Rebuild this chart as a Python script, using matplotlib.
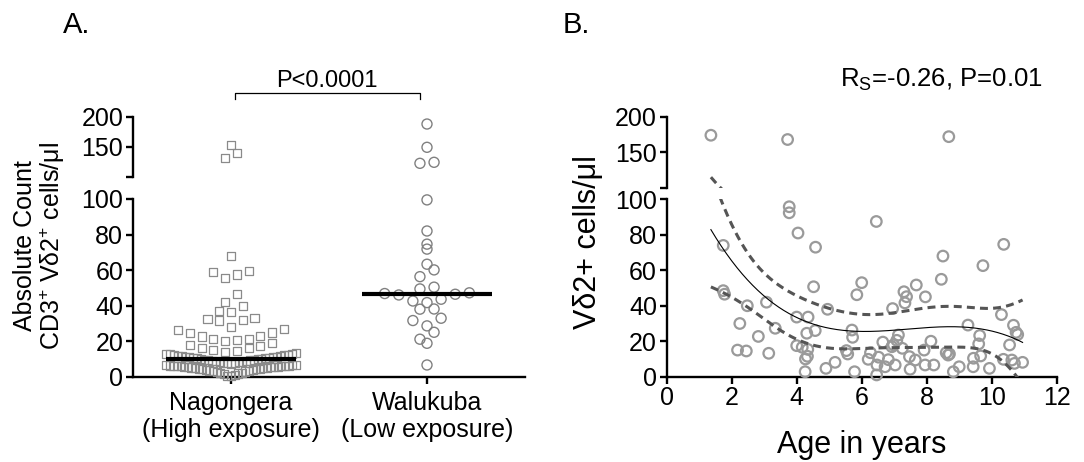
import numpy as np
import matplotlib
matplotlib.use('Agg')
import matplotlib.pyplot as plt
from matplotlib.transforms import blended_transform_factory

plt.rcParams['font.family'] = ['Liberation Sans', 'DejaVu Sans']
plt.rcParams['mathtext.fontset'] = 'custom'
plt.rcParams['mathtext.rm'] = 'Liberation Sans'
plt.rcParams['mathtext.it'] = 'Liberation Sans:italic'
plt.rcParams['mathtext.bf'] = 'Liberation Sans:bold'

### data

groups = ['Nagongera\n(High exposure)', 'Walukuba\n(Low exposure)']

nagongera = [153.3, 140.5, 131,
             67.8, 59.7, 57.5, 55.6, 59, 46.7, 42, 40, 36.4, 36.8,
             33, 32, 31.6, 32.4, 28.2,
             26.4, 24.5, 20.3, 17.9, 22.6, 16, 21.1, 15.1, 20.7, 14.1,
             21.4, 14.7, 23, 16.2, 24.9, 17.3, 26.9, 19.2,
             0.2, 0.6, 1.1, 1.4, 1.8, 2.1, 2.3, 2.7, 2.9, 3.2, 3.4, 3.5,
             3.8, 4.0, 4.1, 4.3, 4.5, 4.6, 4.8, 4.9, 5.0, 5.2, 5.3, 5.3,
             5.5, 5.6, 5.7, 5.8, 5.9, 6.0, 6.1, 6.1, 6.2, 6.3, 6.4, 6.5, 6.6,
             7.2, 7.5, 7.8, 8.0, 8.2, 8.3, 8.5, 8.7, 8.8, 9.0, 9.1, 9.3,
             9.5, 9.6, 9.8, 10.0, 10.1, 10.3, 10.4, 10.6, 10.7, 10.9, 11.0,
             11.2, 11.3, 11.5, 11.7, 11.8, 12.0, 12.2, 12.4, 12.6, 12.8, 13.0, 13.3]

walukuba = [188.3, 149.5, 124.5, 122.8, 99.5, 82, 71.8, 74.6, 63.3, 60.1,
            56.3, 49.4, 50.4, 46.4, 46.0, 42.6, 38.1, 38, 41.7, 43.6,
            46.8, 47.2, 32.9, 28.6, 31.6, 25, 21.1, 18.8, 6.6]

age = [1.36, 3.72, 8.68,
       1.74, 1.74, 1.78, 2.18, 2.25, 2.45, 2.48, 2.82, 3.07, 3.14, 3.34,
       3.77, 3.77, 4.04, 4.58, 4.00, 4.35, 4.00, 4.17, 4.34, 4.31, 4.57, 4.27, 4.33, 4.26, 4.52,
       4.95, 4.90, 5.18, 5.53, 5.57, 5.70, 5.72, 5.78, 5.85, 6.00,
       6.45, 6.20, 6.27, 6.46, 6.47, 6.52, 6.65, 6.72, 6.82, 6.93, 6.95, 7.03, 6.98, 7.08, 7.13, 7.25,
       7.30, 7.33, 7.38, 7.47, 7.49, 7.65, 7.68, 7.96, 7.92, 7.95, 8.13, 8.22,
       8.50, 8.45, 8.60, 8.66, 8.70, 8.82, 9.00, 9.27, 9.43, 9.44, 9.63, 9.60, 9.66, 9.73, 9.93,
       10.37, 10.30, 10.36, 10.55, 10.67, 10.75, 10.80, 10.62, 10.70, 10.95]
vd2 = [174, 168, 172,
       74, 48.5, 46.5, 15, 30, 14.5, 40, 22.7, 42, 13.2, 27.3,
       95.8, 92.4, 81, 73, 33.6, 33.6, 17.5, 16.6, 15.4, 24.5, 26, 10, 11.5, 2.8, 50.7,
       38, 4.7, 8.1, 14.7, 12.8, 26.3, 22.2, 2.8, 46.2, 53,
       87.5, 9.8, 13.5, 1, 6.6, 11, 19.5, 5.6, 9.6, 16.9, 38.4, 6.6, 17.9, 20.5, 23.5, 16,
       47.9, 41.6, 45.1, 11.3, 4.2, 9.4, 51.7, 45, 15, 6.6, 20, 6.6,
       68, 54.9, 13.5, 12.2, 12.8, 2.8, 5.6, 29.1, 5.6, 10.4, 23.2, 18.5, 11.7, 62.6, 4.7,
       74.6, 35, 9.8, 17.9, 29, 25, 23.8, 9.4, 7.5, 8.1]


def swarm_offsets(vals, row_px, step, half_width):
    # prism-like rows: lowest value in the middle, the rest alternating outward
    vals = np.asarray(vals, dtype=float)
    pos = np.where(vals <= 100, vals * 1.774, 177.4 + 22 + (vals - 100) * 0.6)
    rows = np.floor(pos / row_px).astype(int)
    offs = np.zeros(len(vals))
    for r in np.unique(rows):
        idx = np.where(rows == r)[0]
        idx = idx[np.argsort(vals[idx], kind='stable')]
        n = len(idx)
        sp = step if n < 2 else min(step, 2 * half_width / (n - 1))
        slots = (np.arange(n) - (n - 1) / 2) * sp
        order = np.argsort(np.abs(slots), kind='stable')
        offs[idx] = slots[order]
    return offs


W, H = 1084, 462
fig = plt.figure(figsize=(W / 100, H / 100), dpi=100)

spine_w = 1.7
tick_kw = dict(direction='out', length=5, width=spine_w, labelsize=18, pad=2)


def style(ax, bottom=True):
    for s in ['top', 'right']:
        ax.spines[s].set_visible(False)
    ax.spines['left'].set_linewidth(spine_w)
    if bottom:
        ax.spines['bottom'].set_linewidth(spine_w)
    else:
        ax.spines['bottom'].set_visible(False)
        ax.tick_params(axis='x', bottom=False, labelbottom=False)
    ax.tick_params(**tick_kw)
    ax.patch.set_alpha(0)


### panel A
axA = fig.add_axes([133 / W, 1 - 376.7 / H, 392 / W, 177.7 / H])
axAu = fig.add_axes([133 / W, 1 - 177 / H, 392 / W, 60 / H])

specs = [
    dict(vals=nagongera, marker='s', s=34, lw=0.9, color='#8a8a8a', step=0.06),
    dict(vals=walukuba, marker='o', s=52, lw=1.0, color='#808080', step=0.072),
]
for i, sp in enumerate(specs):
    v = np.asarray(sp['vals'], dtype=float)
    off = swarm_offsets(v, 12, sp['step'], 0.33)
    lo = v <= 100
    axA.scatter(i + off[lo], v[lo], marker=sp['marker'], s=sp['s'], facecolors='none',
                edgecolors=sp['color'], linewidths=sp['lw'], clip_on=False, zorder=3)
    axAu.scatter(i + off[~lo], v[~lo], marker=sp['marker'], s=sp['s'], facecolors='none',
                 edgecolors=sp['color'], linewidths=sp['lw'], clip_on=False, zorder=3)
    med = np.median(v)
    axA.plot([i - 0.33, i + 0.33], [med, med], color='black', lw=3.0,
             solid_capstyle='butt', zorder=4)

for ax in (axA, axAu):
    ax.set_xlim(-0.5, 1.5)
axA.set_ylim(0, 100)
axAu.set_ylim(100, 200)
axA.set_yticks([0, 20, 40, 60, 80, 100])
axAu.set_yticks([100, 150, 200], ['', '150', '200'])
axA.set_xticks([0, 1], groups)
style(axA)
style(axAu, bottom=False)
axA.tick_params(axis='x', pad=5)

# significance bracket
tr = blended_transform_factory(axAu.transData, axAu.transAxes)
axAu.plot([0.02, 0.02, 0.965, 0.965], [1.3, 1.4, 1.4, 1.3], color='black', lw=0.9,
          transform=tr, clip_on=False)
axAu.text(0.49, 1.5, 'P<0.0001', transform=tr, ha='center', va='baseline', fontsize=17)

fig.text(40 / W, 1 - 246 / H,
         'Absolute Count\nCD3$^{\\mathregular{+}}$ Vδ2$^{\\mathregular{+}}$ cells/μl',
         rotation=90, ha='center', va='center', fontsize=18, linespacing=1.05)
fig.text(63 / W, 1 - 33 / H, 'A.', fontsize=21, va='baseline')

### panel B
axB = fig.add_axes([666.7 / W, 1 - 376.7 / H, 390 / W, 177.4 / H])
axBu = fig.add_axes([666.7 / W, 1 - 188 / H, 390 / W, 71.3 / H])

x = np.asarray(age, dtype=float)
y = np.asarray(vd2, dtype=float)
lo = y <= 100
pt_kw = dict(marker='o', s=58, facecolors='none', edgecolors='#9a9a9a',
             linewidths=1.6, clip_on=False, zorder=3)
axB.scatter(x[lo], y[lo], **pt_kw)
axBu.scatter(x[~lo], y[~lo], **pt_kw)

# third order polynomial with 95% confidence band of the fit
X = np.vander(x, 4)
coef = np.linalg.lstsq(X, y, rcond=None)[0]
xs = np.linspace(x.min(), x.max(), 300)
Xs = np.vander(xs, 4)
fit = Xs @ coef
resid = y - X @ coef
dof = len(x) - 4
cov = (resid @ resid / dof) * np.linalg.inv(X.T @ X)
se = np.sqrt(np.einsum('ij,jk,ik->i', Xs, cov, Xs))
tval = 1.987
for ax in (axB, axBu):
    ax.plot(xs, fit, color='black', lw=0.8, zorder=4)
    for band in (fit - tval * se, fit + tval * se):
        ax.plot(xs, band, color='#555555', lw=2.2, linestyle=(0, (2.6, 1.7)), zorder=4)
    ax.set_xlim(0, 12)
axB.set_ylim(0, 100)
axBu.set_ylim(100, 200)
axB.set_xticks(np.arange(0, 13, 2))
axB.set_yticks([0, 20, 40, 60, 80, 100])
axBu.set_yticks([100, 150, 200], ['', '150', '200'])
style(axB)
style(axBu, bottom=False)

fig.text(588 / W, 1 - 242 / H, 'Vδ2+ cells/μl', rotation=90, ha='center', va='center', fontsize=22)
fig.text(862 / W, 1 - 445 / H, 'Age in years', ha='center', va='center', fontsize=22)
fig.text(563 / W, 1 - 33 / H, 'B.', fontsize=21, va='baseline')
fig.text(840 / W, 1 - 87 / H, 'R$_{\\mathregular{S}}$=-0.26, P=0.01', fontsize=18.5, va='baseline')

fig.savefig('out.png', dpi=100)
